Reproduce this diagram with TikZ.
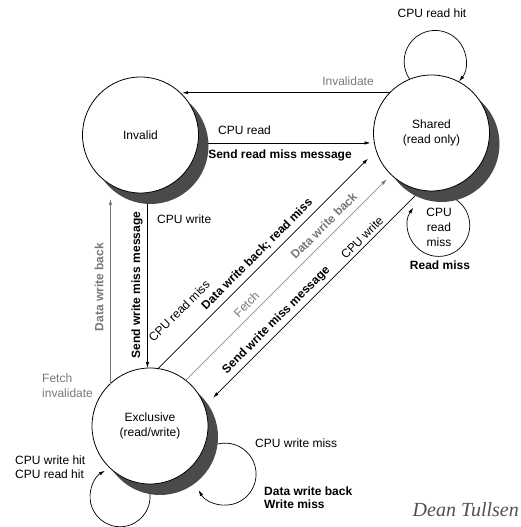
\documentclass[tikz,border=0pt]{standalone}
\usepackage{fontspec}
\setmainfont{Liberation Sans}
\newfontfamily\sigfont{Liberation Serif}
\usetikzlibrary{arrows.meta,calc}
\definecolor{shade}{RGB}{74,74,74}
\definecolor{busgray}{RGB}{120,120,120}
\definecolor{siggray}{RGB}{80,80,80}
\begin{document}
\begin{tikzpicture}[x=1pt,y=1pt,
  every node/.style={font=\fontsize{12}{15}\selectfont, inner sep=1pt},
  state/.style={circle, draw, fill=white, line width=0.8pt, minimum size=116pt, inner sep=0pt, outer sep=0pt, align=center},
  shadowc/.style={circle, fill=shade, minimum size=116pt, inner sep=0pt, outer sep=0pt},
  tr/.style={line width=0.7pt, -{Latex[length=6pt,width=3.5pt]}},
  trr/.style={line width=0.7pt, {Latex[length=6pt,width=3.5pt]}-},
  bustr/.style={tr, draw=busgray},
  bus/.style={text=busgray},
  act/.style={font=\fontsize{12}{13}\selectfont\bfseries},
]
\useasboundingbox (0,0) rectangle (521,527);
% states
\node[shadowc] (invs) at (150.5,381) {};
\node[state] (inv) at (140.5,392) {Invalid};
\node[shadowc] (shas) at (441.5,383) {};
\node[state] (sha) at (431.5,394) {Shared\\(read only)};
\node[shadowc] (excs) at (160,90) {};
\node[state] (exc) at (150,101) {Exclusive\\(read/write)};
% horizontal transitions
\draw[tr] (sha.136) -- (sha.136 -| inv.44);
\node[bus] (linv) at (348,446) {Invalidate};
\draw[tr, shorten >=3pt] (invs.3) -- (invs.3 -| sha.west);
\node[anchor=west] (lcr) at (217,397) {CPU read};
\node[act] (lsrm) at (280,372) {Send read miss message};
% vertical transitions
\draw[tr] (invs.267) -- (invs.267 |- exc.north);
\node[anchor=west] (lcw) at (156,308) {CPU write};
\node[act, rotate=90] (lswm) at (137,242) {Send write miss message};
\draw[bustr] (exc.133) -- ($(exc.133 |- invs.south)+(0,5)$);
\node[act, bus, rotate=90] (ldwb) at (99,240) {Data write back};
\node[bus, anchor=west, align=left] (lfi) at (41,141.5) {Fetch\\invalidate};
% diagonal transitions
\draw[tr] (exc.82) -- ($(exc.82)+(210,210)$)
  node[pos=0.508, sloped, above=4pt, act] (la1) {Data write back; read miss}
  node[pos=0.187, sloped, above=20pt] (la2) {CPU read miss};
\draw[bustr, line width=0.5pt] (exc.52) -- ($(exc.52)+(201,201)$)
  node[pos=0.34, sloped, above=5pt, bus] (lb1) {Fetch}
  node[pos=0.728, sloped, above=6pt, act, bus] (lb2) {Data write back};
\draw[trr] ($(shas.243)+(-202,-202)$) -- (shas.243)
  node[pos=0.764, sloped, above=2pt] (lc1) {CPU write}
  node[pos=0.348, sloped, above=3pt, act] (lc2) {Send write miss message};
% loops
\draw[tr] (sha.112) arc[start angle=215, end angle=-40, radius=31];
\node (lrh) at (432,514) {CPU read hit};
\draw[tr] (shas.285) arc[start angle=55, end angle=-215, radius=31];
\node[align=center] (lrm) at (439,300) {CPU\\read\\miss};
\node[act] (lrm2) at (440,262) {Read miss};
\draw[tr] (excs.260) arc[start angle=5, end angle=-240, radius=30];
\node[anchor=west, align=left, font=\fontsize{12}{14}\selectfont] (lhit) at (14,60) {CPU write hit\\CPU read hit};
\draw[tr] (excs.353) arc[start angle=104, end angle=-149, radius=31];
\node[anchor=west] (lwm) at (254,84) {CPU write miss};
\node[act, anchor=west, align=left] (lwm2) at (263,29.5) {Data write back\\Write miss};
\node[anchor=east, text=siggray, font=\sigfont\itshape\fontsize{20}{22}\selectfont] (sig) at (520,17) {Dean Tullsen};
\end{tikzpicture}
\end{document}
